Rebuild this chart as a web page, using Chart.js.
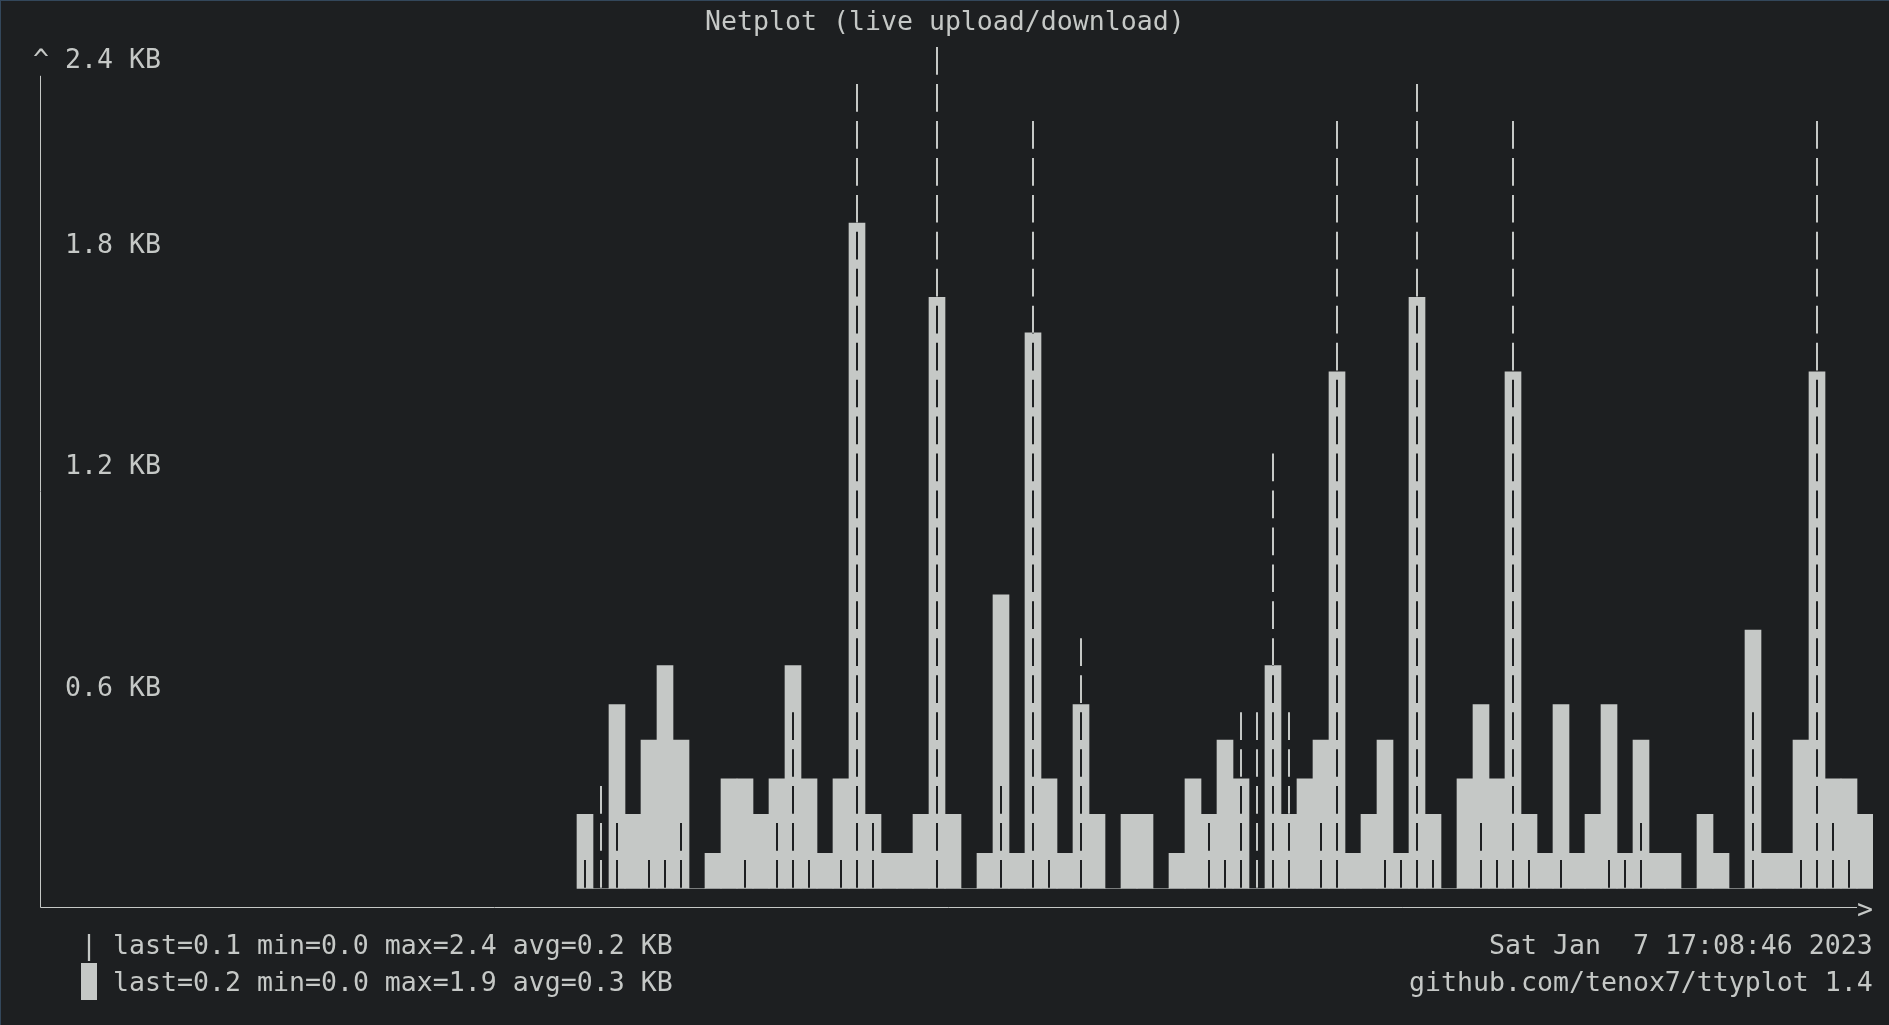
<!DOCTYPE html>
<html lang="en">
<head>
  <meta charset="UTF-8" />
  <title>Netplot (live upload/download)</title>
  <script src="https://cdn.jsdelivr.net/npm/chart.js"></script>
  <style>
    html, body { margin: 0; padding: 0; background: #1d1f21; overflow: hidden; }
    body { width: 1889px; height: 1025px; position: relative; }
    #plot { position: absolute; left: 0; top: 0; }
    .frame {
      position: absolute; left: 0; top: 0; width: 1889px; height: 1025px;
      box-sizing: border-box; border-top: 1px solid #33475b; border-left: 1px solid #33475b;
      pointer-events: none;
    }
    .term {
      position: absolute; white-space: pre; color: #c5c8c6;
      font-family: "DejaVu Sans Mono", monospace; font-size: 26.57px;
      line-height: 36.95px; height: 36.95px;
    }
    .block { width: 16px; background: #c5c8c6; }
  </style>
</head>
<body>
  <canvas id="plot" width="1889" height="1025"></canvas>

  <!-- terminal text, placed on the character grid by the script -->
  <div class="term" data-col="44" data-row="0">Netplot (live upload/download)</div>
  <div class="term" data-col="5" data-row="25">| last=0.1 min=0.0 max=2.4 avg=0.2 KB</div>
  <div class="term block" data-col="5" data-row="26"></div>
  <div class="term" data-col="7" data-row="26">last=0.2 min=0.0 max=1.9 avg=0.3 KB</div>
  <div class="term" data-col="93" data-row="25">Sat Jan  7 17:08:46 2023</div>
  <div class="term" data-col="88" data-row="26">github.com/tenox7/ttyplot 1.4</div>
  <div class="frame"></div>

  <script>
    // samples in KB, oldest first (one terminal column each)
    const download = [
      0.21, 0, 0.52, 0.21, 0.42, 0.63, 0.42, 0, 0.10, 0.31, 0.31, 0.21, 0.31, 0.63, 0.31, 0.10, 0.31, 1.88, 0.21, 0.10,
      0.10, 0.21, 1.67, 0.21, 0, 0.10, 0.83, 0.10, 1.57, 0.31, 0.10, 0.52, 0.21, 0, 0.21, 0.21, 0, 0.10, 0.31, 0.21,
      0.42, 0.31, 0, 0.63, 0.21, 0.31, 0.42, 1.46, 0.10, 0.21, 0.42, 0.10, 1.67, 0.21, 0, 0.31, 0.52, 0.31, 1.46, 0.21,
      0.10, 0.52, 0.10, 0.21, 0.52, 0.10, 0.42, 0.10, 0.10, 0, 0.21, 0.10, 0, 0.73, 0.10, 0.10, 0.42, 1.46, 0.31, 0.31, 0.21
    ];
    const upload = [
      0.10, 0.31, 0.21, 0, 0.10, 0.10, 0.21, 0, 0, 0, 0.10, 0, 0.21, 0.52, 0.10, 0, 0.10, 2.29, 0.21, 0,
      0, 0, 2.40, 0, 0, 0, 0.31, 0, 2.19, 0.10, 0, 0.73, 0, 0, 0, 0, 0, 0, 0, 0.21,
      0.10, 0.52, 0.52, 1.25, 0.52, 0, 0.21, 2.19, 0, 0, 0.10, 0.10, 2.29, 0.10, 0, 0, 0.21, 0.10, 2.19, 0.10,
      0, 0.10, 0, 0, 0.10, 0.10, 0.21, 0, 0, 0, 0, 0, 0, 0.52, 0, 0, 0.10, 2.19, 0.21, 0.10, 0
    ];
    const yTickValues = [2.4, 1.8, 1.2, 0.6];
    const yTickLabels = ['2.4 KB', '1.8 KB', '1.2 KB', '0.6 KB'];
    const yMax = 2.4;
    const emptyColumns = 33; // plot columns with no samples yet

    // terminal character grid
    const FG = '#c5c8c6';
    const BG = '#1d1f21';
    const FONT_SIZE = 26.57;
    const FONT = FONT_SIZE + 'px "DejaVu Sans Mono", monospace';
    const cellW = 16, cellH = 36.95, gridX = 1, gridY = 1.9;
    const textNudge = 1.5;
    const cellX = col => gridX + col * cellW;
    const rowTop = row => gridY + row * cellH;
    const baseOff = (cellH - 1.164 * FONT_SIZE) / 2 + 0.928 * FONT_SIZE + textNudge;

    document.querySelectorAll('.term').forEach(el => {
      el.style.left = cellX(+el.dataset.col) + 'px';
      const nudge = el.classList.contains('block') ? 0 : textNudge;
      el.style.top = (rowTop(+el.dataset.row) + nudge) + 'px';
    });

    const columns = Array.from({ length: emptyColumns + download.length }, (_, i) => i);
    const pad = Array(emptyColumns).fill(null);

    // axes, arrow heads and y labels, snapped to the character cells
    const ttyAxes = {
      id: 'ttyAxes',
      afterDraw(chart) {
        const { ctx, chartArea, scales } = chart;
        const axisCol = Math.round((chartArea.left - gridX) / cellW) - 1;
        const axisRow = Math.round((chartArea.bottom - gridY) / cellH);
        const lastCol = Math.round((chartArea.right - gridX) / cellW) - 1;
        const ax = Math.floor(cellX(axisCol) + cellW / 2) - 0.5;
        const ay = Math.floor(rowTop(axisRow) + cellH / 2) + 0.5;

        ctx.save();
        ctx.strokeStyle = FG;
        ctx.lineWidth = 1;
        ctx.beginPath();
        ctx.moveTo(ax, rowTop(2));
        ctx.lineTo(ax, ay);
        ctx.lineTo(cellX(lastCol), ay);
        ctx.stroke();

        ctx.font = FONT;
        ctx.fillStyle = FG;
        ctx.textBaseline = 'alphabetic';
        ctx.fillText('^', cellX(axisCol), rowTop(1) + baseOff);
        ctx.fillText('>', cellX(lastCol), rowTop(axisRow) + baseOff);

        yTickValues.forEach((v, i) => {
          const py = scales.y.getPixelForValue(v);
          const row = 1 + Math.floor((py - chartArea.top) / cellH + 1e-6);
          ctx.fillText(yTickLabels[i], cellX(axisCol + 2), rowTop(row) + baseOff);
        });
        ctx.restore();
      }
    };

    // upload drawn as a column of '|' glyphs, inverted where it crosses a bar
    const uploadDashes = {
      id: 'uploadDashes',
      afterDatasetsDraw(chart) {
        const { ctx } = chart;
        const dMeta = chart.getDatasetMeta(0);
        const uMeta = chart.getDatasetMeta(1);
        const dashLine = (x, from, to, color) => {
          ctx.strokeStyle = color;
          ctx.lineWidth = 2;
          ctx.setLineDash([cellH - 9.25, 9.25]);
          ctx.lineDashOffset = -1;
          ctx.beginPath();
          ctx.moveTo(x, from);
          ctx.lineTo(x, to);
          ctx.stroke();
        };
        ctx.save();
        uMeta.data.forEach((el, i) => {
          const v = chart.data.datasets[1].data[i];
          if (!v) return;
          const x = Math.round(el.x);
          dashLine(x, el.base, el.y, FG);
          const bar = dMeta.data[i];
          const d = chart.data.datasets[0].data[i];
          if (d > 0) {
            ctx.save();
            ctx.beginPath();
            ctx.rect(bar.x - bar.width / 2, bar.y, bar.width, bar.base - bar.y);
            ctx.clip();
            dashLine(x, el.base, el.y, BG);
            ctx.restore();
          }
        });
        ctx.restore();
      }
    };

    new Chart(document.getElementById('plot'), {
      type: 'bar',
      data: {
        labels: columns,
        datasets: [
          {
            label: 'download',
            data: pad.concat(download),
            backgroundColor: FG,
            borderWidth: 0,
            grouped: false,
            barPercentage: 1,
            categoryPercentage: 1
          },
          {
            label: 'upload',
            data: pad.concat(upload),
            backgroundColor: 'rgba(0,0,0,0)',
            borderWidth: 0,
            grouped: false,
            barPercentage: 1,
            categoryPercentage: 1
          }
        ]
      },
      options: {
        responsive: false,
        animation: false,
        events: [],
        layout: {
          padding: {
            left: cellX(3),
            right: 1889 - cellX(117),
            top: rowTop(1),
            bottom: 1025 - rowTop(24)
          }
        },
        plugins: {
          legend: { display: false },
          tooltip: { enabled: false },
          title: { display: false }
        },
        scales: {
          x: { display: false, offset: true },
          y: { display: false, min: 0, max: yMax }
        }
      },
      plugins: [ttyAxes, uploadDashes]
    });
  </script>
</body>
</html>
